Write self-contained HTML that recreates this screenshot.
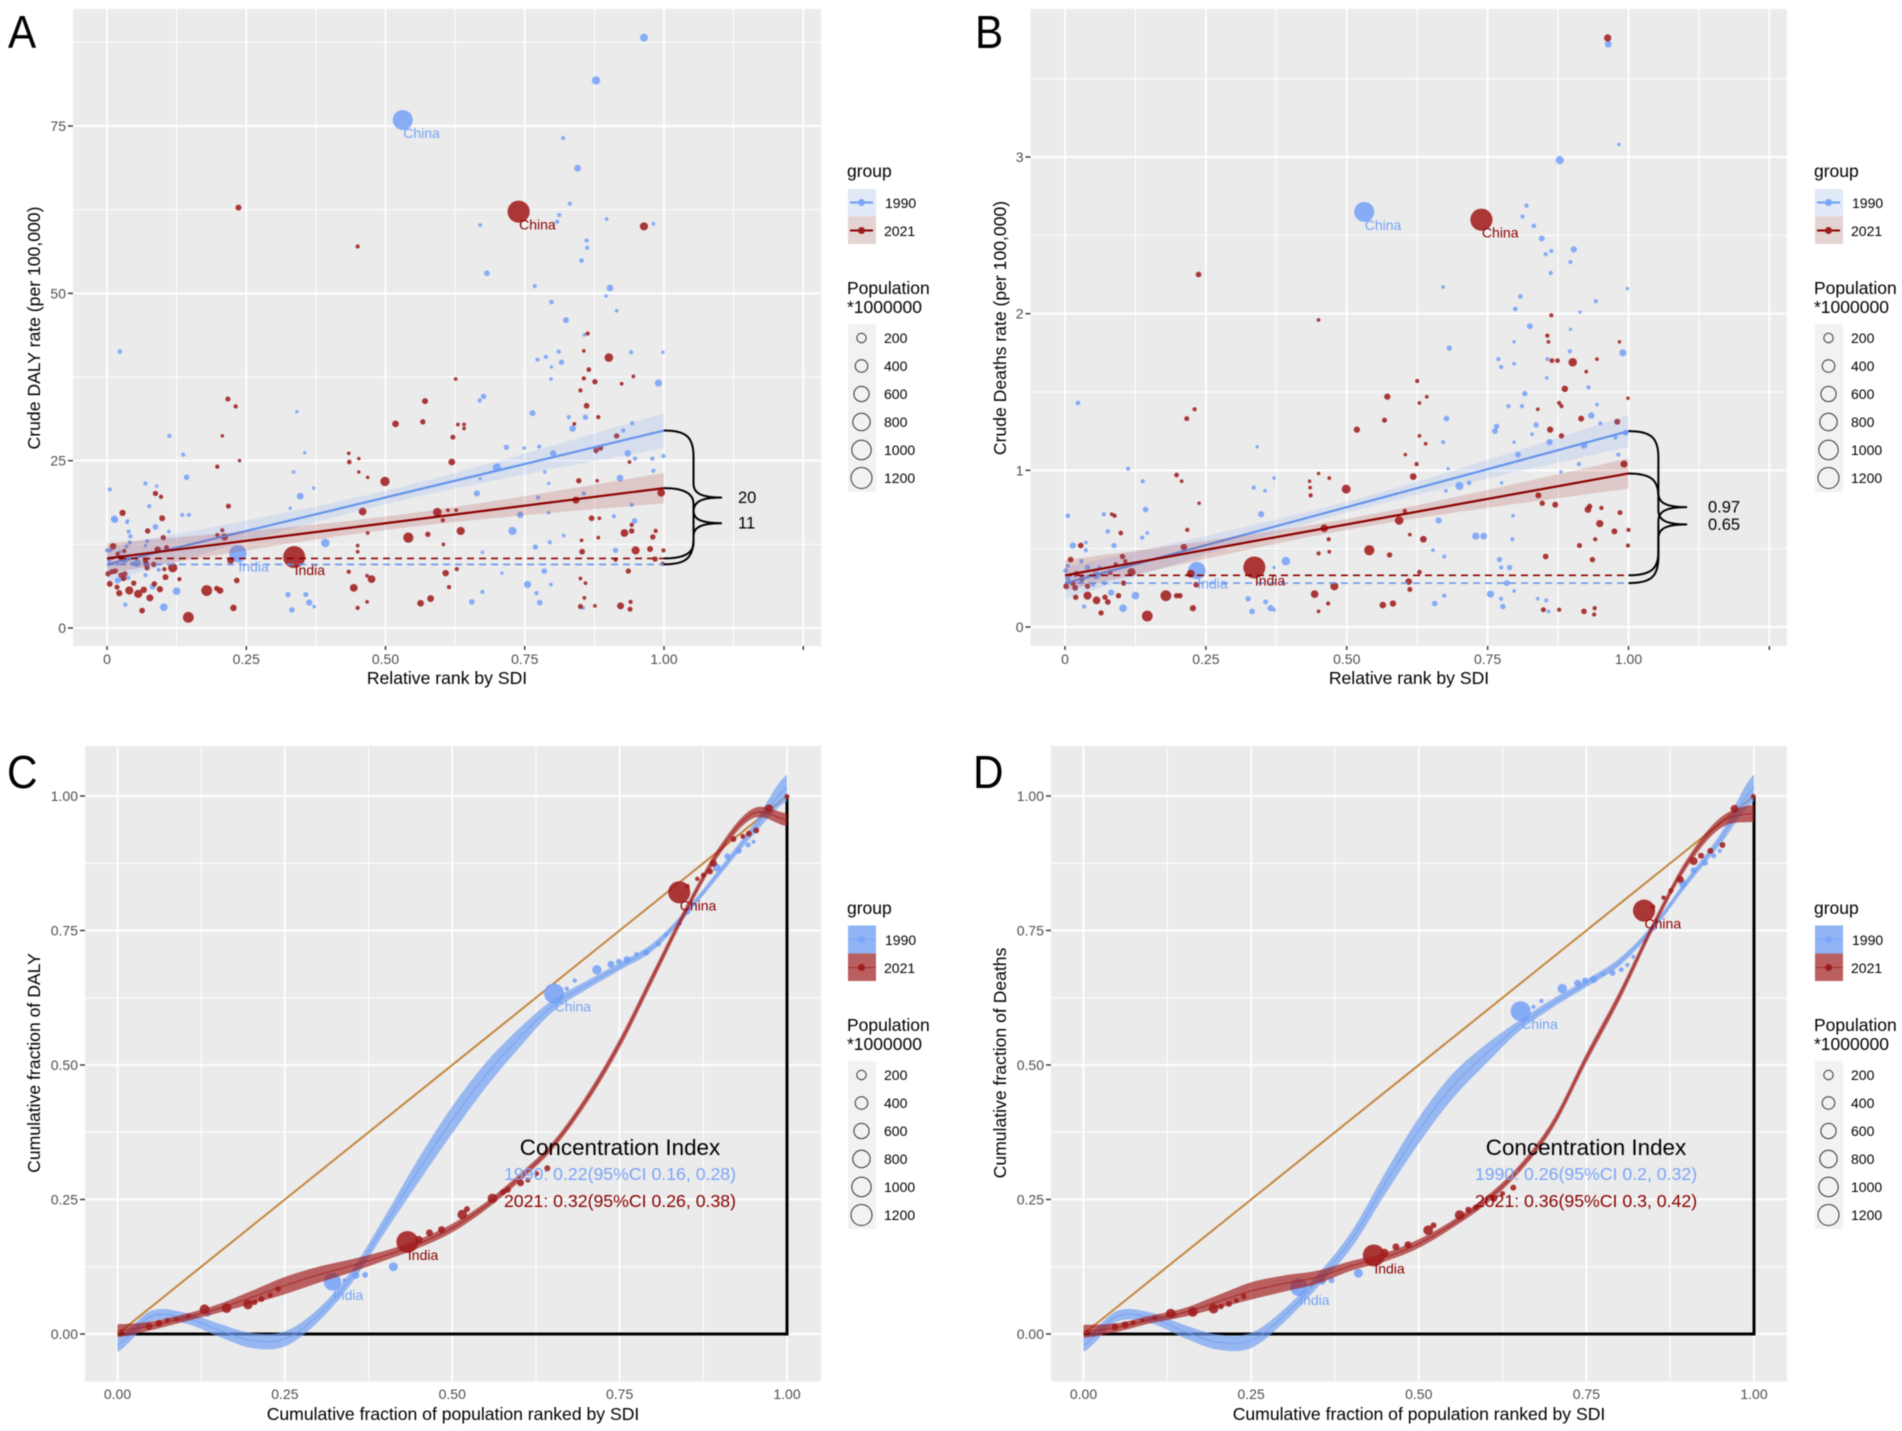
<!DOCTYPE html>
<html lang="en">
<head>
<meta charset="utf-8">
<title>Health inequality analysis by SDI</title>
<style>
html,body{margin:0;padding:0;background:#fff;width:1902px;height:1431px;overflow:hidden}
svg{display:block;font-family:"Liberation Sans",sans-serif;filter:blur(.45px)}
.lg{font-size:17.5px;fill:#000}
.lb{font-size:14px;fill:#000}
.at{font-size:17.6px;fill:#000}
.pl{font-size:46px;fill:#000}
.cs{fill:none;stroke:#333;stroke-width:1}
</style>
</head>
<body>
<svg id="figure" width="1902" height="1431" viewBox="0 0 1902 1431" xmlns="http://www.w3.org/2000/svg">
<rect width="1902" height="1431" fill="#fff"/>

<g id="panel-a">
<rect x="73" y="9" width="748" height="637" fill="#ebebeb"/>
</g>
<g id="panel-b">
<rect x="1030.5" y="9" width="756.5" height="637" fill="#ebebeb"/>
</g>
<g id="panel-c">
<rect x="85" y="746" width="736" height="635.5" fill="#ebebeb"/>
</g>
<g id="panel-d">
<rect x="1051" y="746" width="736" height="635.5" fill="#ebebeb"/>
</g>

<g>
<text class="pl" transform="translate(8,48) scale(.92,1)">A</text>
<text class="pl" transform="translate(975,48) scale(.92,1)">B</text>
<text class="pl" transform="translate(7,788) scale(.92,1)">C</text>
<text class="pl" transform="translate(973,788) scale(.92,1)">D</text>
</g>

<g>
<text class="at" x="447" y="684" text-anchor="middle">Relative rank by SDI</text>
<text class="at" transform="translate(40,328) rotate(-90)" text-anchor="middle">Crude DALY rate (per 100,000)</text>
<text class="at" x="1409" y="684" text-anchor="middle">Relative rank by SDI</text>
<text class="at" transform="translate(1006,328) rotate(-90)" text-anchor="middle">Crude Deaths rate (per 100,000)</text>
<text class="at" x="453" y="1420" text-anchor="middle">Cumulative fraction of population ranked by SDI</text>
<text class="at" transform="translate(40,1063) rotate(-90)" text-anchor="middle">Cumulative fraction of DALY</text>
<text class="at" x="1419" y="1420" text-anchor="middle">Cumulative fraction of population ranked by SDI</text>
<text class="at" transform="translate(1006,1063) rotate(-90)" text-anchor="middle">Cumulative fraction of Deaths</text>
</g>

<!-- Legend A -->
<g transform="translate(0,0)">
<text class="lg" x="847" y="177">group</text>
<rect x="848" y="189" width="28" height="27.5" fill="#e1e8f6"/>
<rect x="848" y="216.5" width="28" height="27.5" fill="#e4d3d3"/>
<line x1="850" x2="873" y1="202.5" y2="202.5" stroke="#6f9df2" stroke-width="2"/>
<circle cx="861.5" cy="202.5" r="3.5" fill="#7aa6f7"/>
<line x1="850" x2="873" y1="230.5" y2="230.5" stroke="#8b0000" stroke-width="2"/>
<circle cx="861.5" cy="230.5" r="3.5" fill="#a01c1c"/>
<text class="lb" x="885" y="208">1990</text>
<text class="lb" x="884" y="236">2021</text>
<text class="lg" x="847" y="294">Population</text>
<text class="lg" x="847" y="313">*1000000</text>
<rect x="848" y="324" width="28" height="168" fill="#f2f2f2"/>
<circle class="cs" cx="861.5" cy="338" r="4.7"/>
<circle class="cs" cx="861.5" cy="366" r="6.3"/>
<circle class="cs" cx="861.5" cy="394" r="7.6"/>
<circle class="cs" cx="861.5" cy="422" r="8.7"/>
<circle class="cs" cx="861.5" cy="450" r="9.7"/>
<circle class="cs" cx="861.5" cy="478" r="10.5"/>
<text class="lb" x="884" y="343">200</text>
<text class="lb" x="884" y="371">400</text>
<text class="lb" x="884" y="399">600</text>
<text class="lb" x="884" y="427">800</text>
<text class="lb" x="884" y="455">1000</text>
<text class="lb" x="884" y="483">1200</text>
</g>

<!-- Legend B -->
<g transform="translate(967,0)">
<text class="lg" x="847" y="177">group</text>
<rect x="848" y="189" width="28" height="27.5" fill="#e1e8f6"/>
<rect x="848" y="216.5" width="28" height="27.5" fill="#e4d3d3"/>
<line x1="850" x2="873" y1="202.5" y2="202.5" stroke="#6f9df2" stroke-width="2"/>
<circle cx="861.5" cy="202.5" r="3.5" fill="#7aa6f7"/>
<line x1="850" x2="873" y1="230.5" y2="230.5" stroke="#8b0000" stroke-width="2"/>
<circle cx="861.5" cy="230.5" r="3.5" fill="#a01c1c"/>
<text class="lb" x="885" y="208">1990</text>
<text class="lb" x="884" y="236">2021</text>
<text class="lg" x="847" y="294">Population</text>
<text class="lg" x="847" y="313">*1000000</text>
<rect x="848" y="324" width="28" height="168" fill="#f2f2f2"/>
<circle class="cs" cx="861.5" cy="338" r="4.7"/>
<circle class="cs" cx="861.5" cy="366" r="6.3"/>
<circle class="cs" cx="861.5" cy="394" r="7.6"/>
<circle class="cs" cx="861.5" cy="422" r="8.7"/>
<circle class="cs" cx="861.5" cy="450" r="9.7"/>
<circle class="cs" cx="861.5" cy="478" r="10.5"/>
<text class="lb" x="884" y="343">200</text>
<text class="lb" x="884" y="371">400</text>
<text class="lb" x="884" y="399">600</text>
<text class="lb" x="884" y="427">800</text>
<text class="lb" x="884" y="455">1000</text>
<text class="lb" x="884" y="483">1200</text>
</g>

<!-- Legend C -->
<g transform="translate(0,737)">
<text class="lg" x="847" y="177">group</text>
<rect x="848" y="188.5" width="28" height="28" fill="#90b4f6"/>
<rect x="848" y="216.5" width="28" height="27.5" fill="#b95f5f"/>
<line x1="848" x2="876" y1="202.5" y2="202.5" stroke="#7aa6f7" stroke-width="1"/>
<circle cx="861.5" cy="202.5" r="3.5" fill="#7aa6f7"/>
<line x1="848" x2="876" y1="230.5" y2="230.5" stroke="#a03030" stroke-width="1"/>
<circle cx="861.5" cy="230.5" r="3.5" fill="#a01c1c"/>
<text class="lb" x="885" y="208">1990</text>
<text class="lb" x="884" y="236">2021</text>
<text class="lg" x="847" y="294">Population</text>
<text class="lg" x="847" y="313">*1000000</text>
<rect x="848" y="324" width="28" height="168" fill="#f2f2f2"/>
<circle class="cs" cx="861.5" cy="338" r="4.7"/>
<circle class="cs" cx="861.5" cy="366" r="6.3"/>
<circle class="cs" cx="861.5" cy="394" r="7.6"/>
<circle class="cs" cx="861.5" cy="422" r="8.7"/>
<circle class="cs" cx="861.5" cy="450" r="9.7"/>
<circle class="cs" cx="861.5" cy="478" r="10.5"/>
<text class="lb" x="884" y="343">200</text>
<text class="lb" x="884" y="371">400</text>
<text class="lb" x="884" y="399">600</text>
<text class="lb" x="884" y="427">800</text>
<text class="lb" x="884" y="455">1000</text>
<text class="lb" x="884" y="483">1200</text>
</g>

<!-- Legend D -->
<g transform="translate(967,737)">
<text class="lg" x="847" y="177">group</text>
<rect x="848" y="188.5" width="28" height="28" fill="#90b4f6"/>
<rect x="848" y="216.5" width="28" height="27.5" fill="#b95f5f"/>
<line x1="848" x2="876" y1="202.5" y2="202.5" stroke="#7aa6f7" stroke-width="1"/>
<circle cx="861.5" cy="202.5" r="3.5" fill="#7aa6f7"/>
<line x1="848" x2="876" y1="230.5" y2="230.5" stroke="#a03030" stroke-width="1"/>
<circle cx="861.5" cy="230.5" r="3.5" fill="#a01c1c"/>
<text class="lb" x="885" y="208">1990</text>
<text class="lb" x="884" y="236">2021</text>
<text class="lg" x="847" y="294">Population</text>
<text class="lg" x="847" y="313">*1000000</text>
<rect x="848" y="324" width="28" height="168" fill="#f2f2f2"/>
<circle class="cs" cx="861.5" cy="338" r="4.7"/>
<circle class="cs" cx="861.5" cy="366" r="6.3"/>
<circle class="cs" cx="861.5" cy="394" r="7.6"/>
<circle class="cs" cx="861.5" cy="422" r="8.7"/>
<circle class="cs" cx="861.5" cy="450" r="9.7"/>
<circle class="cs" cx="861.5" cy="478" r="10.5"/>
<text class="lb" x="884" y="343">200</text>
<text class="lb" x="884" y="371">400</text>
<text class="lb" x="884" y="399">600</text>
<text class="lb" x="884" y="427">800</text>
<text class="lb" x="884" y="455">1000</text>
<text class="lb" x="884" y="483">1200</text>
</g>
<g id="overlay">
<text x="620" y="1155" text-anchor="middle" font-size="22.4" fill="#000">Concentration Index</text>
<text x="620" y="1180" text-anchor="middle" font-size="17.7" fill="#7aa6f7">1990: 0.22(95%CI 0.16, 0.28)</text>
<text x="620" y="1207" text-anchor="middle" font-size="17.7" fill="#8b0000">2021: 0.32(95%CI 0.26, 0.38)</text>
<text x="1586" y="1155" text-anchor="middle" font-size="22.4" fill="#000">Concentration Index</text>
<text x="1586" y="1180" text-anchor="middle" font-size="17.7" fill="#7aa6f7">1990: 0.26(95%CI 0.2, 0.32)</text>
<text x="1586" y="1207" text-anchor="middle" font-size="17.7" fill="#8b0000">2021: 0.36(95%CI 0.3, 0.42)</text>
</g>
</svg>

<script>
/* ---------- tick values and labels ---------- */
const rankTicks = [0, 0.25, 0.5, 0.75, 1, 1.25];
const rankTickLabels = ["0", "0.25", "0.50", "0.75", "1.00", ""];
const rankMinor = [0.125, 0.375, 0.625, 0.875, 1.125];
const dalyTicks = [0, 25, 50, 75];
const dalyTickLabels = ["0", "25", "50", "75"];
const dalyMinor = [12.5, 37.5, 62.5, 87.5];
const deathsTicks = [0, 1, 2, 3];
const deathsTickLabels = ["0", "1", "2", "3"];
const deathsMinor = [0.5, 1.5, 2.5, 3.5];
const fractionTicks = [0, 0.25, 0.5, 0.75, 1];
const fractionTickLabels = ["0.00", "0.25", "0.50", "0.75", "1.00"];
const fractionMinor = [0.125, 0.375, 0.625, 0.875];

/* ---------- Panel A: [relative rank, DALY rate, population (millions), label] ---------- */
const dalyPoints1990 = [
[.964,88.2,160],[.878,81.8,180],[.531,75.9,1150,"China"],[.819,73.2,28],[.845,68.7,110],[.831,63.4,28],[.812,61.7,28],[.808,60.7,28],[.670,60.2,20],[.897,61.1,15],[.981,60.4,15],[.861,57.9,28],[.862,56.8,28],[.852,54.9,40],[.682,53.0,70],[.768,51.1,28],[.903,50.8,110],[.896,49.6,10],[.798,48.7,40],[.915,47.4,15],[.824,46.0,80],[.023,41.3,40],[.857,43.8,15],[.998,41.2,10],[.941,41.2,28],[.811,41.3,28],[.788,40.5,28],[.773,40.1,28],[.816,39.7,60],[.798,39.0,10],[.990,36.6,130],[.797,37.2,15],[.676,34.6,60],[.669,34.0,28],[.764,32.1,80],[.341,32.3,10],[.829,31.5,28],[.859,31.5,60],[.836,29.8,100],[.112,28.7,28],[.943,30.6,28],[.927,29.5,28],[.717,27.0,60],[.776,27.1,28],[.749,26.9,15],[.801,26.1,90],[.137,25.9,28],[.355,26.2,10],[.935,26.1,100],[.948,25.3,28],[.979,25.3,28],[.999,25.7,28],[.700,24.0,170],[.335,23.3,15],[.786,23.3,10],[.981,23.5,28],[.921,22.4,110],[.143,22.5,70],[.069,21.6,28],[.089,21.2,10],[.005,20.7,28],[.670,22.3,10],[.793,21.6,10],[.664,20.1,90],[.347,19.7,110],[.856,20.1,28],[.774,19.5,28],[.371,20.9,10],[.942,18.4,28],[.076,18.2,28],[.329,17.9,10],[.742,16.9,100],[.135,16.9,28],[.147,16.9,28],[.793,17.2,10],[.013,16.3,110],[.910,16.7,28],[.947,16.0,70],[.037,16.0,10],[.087,15.1,70],[.039,14.4,28],[.728,14.5,170],[.111,14.4,15],[.820,13.8,15],[.042,13.7,28],[.392,12.7,190],[.769,12.1,60],[.795,12.8,28],[.913,11.6,60],[.235,11.1,870,"India"],[.785,8.5,70],[.709,8.2,10],[.674,11.3,10],[.755,6.5,130],[.797,6.5,15],[.674,5.4,28],[.125,5.5,150],[.771,5.2,28],[.325,5.0,60],[.357,5.0,50],[.777,3.8,70],[.363,3.8,90],[.372,3.2,15],[.102,3.1,150],[.332,2.7,70],[.655,3.9,70],[.855,3.0,15],[.033,3.5,28],[.014,16.2,110],[.036,15.8,15],[.041,12.8,28],[.072,13,28],[.035,12.2,28],[0,11.6,28],[.006,11.6,28],[.069,12.3,10],[.054,9.7,170],[.03,9.7,28],[.038,10.4,28],[.004,10.1,28],[.004,9.5,10],[.018,9.6,28],[.024,11.4,10],[.035,10.1,28],[.045,9.6,28],[.05,9.5,10],[.07,10.1,28],[.072,9.6,28],[.082,6.2,80],[.069,7.9,28],[.019,7.1,80],[.025,7.3,28],[.038,7.5,28],[.093,8.7,28]
];
const dalyPoints2021 = [
[.236,62.8,80],[.739,62.2,1420,"China"],[.964,60.0,170],[.450,57.0,28],[.863,44.0,28],[.856,41.4,15],[.901,40.4,190],[.865,38.6,40],[.856,37.3,28],[.626,37.2,15],[.876,36.8,60],[.945,37.6,15],[.924,36.5,15],[.850,35.5,28],[.217,34.2,50],[.231,33.1,28],[.571,33.9,80],[.861,33.2,70],[.882,31.5,28],[.518,30.5,110],[.567,30.8,60],[.641,30.4,15],[.630,30.4,15],[.641,29.8,15],[.621,28.5,50],[.207,28.7,10],[.915,28.7,60],[.839,30.5,15],[.886,26.9,60],[.878,26.5,60],[.434,26.1,15],[.435,24.8,40],[.452,25.3,10],[.619,24.8,110],[.198,24.1,28],[.238,25.0,10],[.452,23.3,10],[.468,22.5,10],[.938,24.8,15],[.499,21.9,230],[.847,22.0,60],[.880,22.0,10],[.995,20.2,150],[.842,19.1,120],[.459,17.4,150],[.593,17.3,190],[.612,17.6,15],[.627,17.6,15],[.603,16.1,28],[.870,16.4,70],[.884,16.4,15],[.635,14.5,170],[.541,13.5,280],[.576,14.0,60],[.468,14.2,15],[.929,14.2,150],[.942,15.4,28],[.942,14.5,60],[.985,14.5,28],[.980,13.6,60],[.852,13.1,15],[.882,13.5,15],[.604,12.5,15],[.450,12.3,15],[.450,11.4,15],[.853,11.4,70],[.949,11.6,170],[.975,11.8,80],[.999,11.6,28],[.336,10.6,1400,"India"],[.913,10.2,28],[.984,10.3,60],[.998,9.6,28],[.628,8.8,28],[.608,8.2,100],[.434,8.4,28],[.467,7.8,15],[.475,7.3,150],[.850,7.4,15],[.859,6.7,15],[.936,8.5,60],[.443,6.0,150],[.614,6.1,28],[.581,4.4,110],[.563,3.7,110],[.467,3.9,15],[.857,4.5,15],[.940,3.9,28],[.450,3.0,28],[.850,3.2,50],[.876,3.3,15],[.922,3.3,120],[.939,2.8,50],[.028,17.2,90],[.099,16.4,80],[.073,14.5,60],[.101,13.5,60],[.011,12.2,100],[.107,12,50],[.091,11.7,100],[.019,11.1,28],[.031,11.5,28],[.025,10.5,60],[.069,10.1,60],[.07,9.6,60],[.072,9,60],[.084,9.5,60],[.103,8.8,28],[.118,9,230],[.105,7.6,80],[.015,8.5,60],[.009,8.4,60],[.002,8.1,60],[.025,7.9,60],[.032,8.1,60],[.03,7.4,60],[.085,6.6,60],[.13,7.3,28],[.048,6.7,60],[.005,6.6,80],[.018,6.1,50],[.095,5.8,90],[.022,5.2,90],[.04,5.6,170],[.066,5.7,100],[.056,5.1,170],[.077,4.5,120],[.063,2.6,70],[.146,1.6,320],[.179,5.6,320],[.197,5.9,60],[.203,5.6,100],[.227,3,100],[.233,7.1,70],[.222,10.1,110],[.211,13.6,120],[.198,13.9,28],[.207,14.6,28],[.218,18.2,50],[.087,20.1,60],[.097,19.6,28]
];
const dalyFit1990 = [9.5, 20];
const dalyFit2021 = [10.4, 10.5];
const dalyBand1990 = [1.0, 4.8];
const dalyBand2021 = [1.0, 4.1];
const dalySlopeLabels = ["20", "11"];

/* ---------- Panel B: [relative rank, deaths rate, population (millions), label] ---------- */
const deathsPoints1990 = [
[.964,3.72,110],[.983,3.08,10],[.878,2.98,170],[.531,2.65,1150,"China"],[.819,2.69,28],[.812,2.62,28],[.832,2.56,40],[.846,2.48,80],[.903,2.41,90],[.863,2.40,28],[.853,2.38,28],[.897,2.33,28],[.862,2.26,28],[.671,2.17,15],[.998,2.16,10],[.808,2.11,40],[.942,2.08,28],[.799,2.03,40],[.914,2.01,10],[.825,1.92,80],[.897,1.90,10],[.797,1.82,10],[.682,1.78,60],[.896,1.76,28],[.990,1.75,120],[.769,1.71,28],[.797,1.68,15],[.774,1.66,28],[.856,1.71,28],[.855,1.59,15],[.023,1.43,40],[.816,1.49,60],[.929,1.53,28],[.944,1.42,15],[.787,1.41,28],[.811,1.41,28],[.934,1.35,100],[.677,1.33,70],[.950,1.30,28],[.766,1.28,60],[.836,1.29,60],[.763,1.25,70],[.829,1.23,15],[.112,1.01,28],[.138,.93,28],[.341,1.15,10],[.797,1.18,10],[.671,1.18,28],[.860,1.18,90],[.921,1.16,110],[.977,1.21,28],[.995,1.24,70],[.804,1.10,70],[.982,1.10,28],[.680,1.01,10],[.700,.90,170],[.717,.92,40],[.676,.87,15],[.371,.95,15],[.335,.89,28],[.355,.87,15],[.775,.92,10],[.912,1.04,28],[.880,.99,10],[.143,.75,70],[.005,.71,40],[.069,.72,28],[.348,.72,90],[.663,.68,90],[.795,.71,15],[.076,.61,40],[.146,.60,15],[.137,.57,28],[.014,.52,90],[.087,.52,60],[.037,.54,15],[.729,.58,130],[.743,.58,110],[.794,.56,28],[.392,.42,190],[.771,.43,60],[.673,.45,28],[.653,.49,15],[.789,.38,60],[.774,.38,28],[.001,.36,40],[.040,.38,60],[.234,.36,870,"India"],[.055,.33,170],[.005,.31,60],[.082,.22,90],[.784,.28,80],[.371,.38,10],[.125,.20,150],[.755,.21,130],[.673,.20,28],[.774,.18,28],[.797,.23,15],[.325,.18,60],[.356,.16,50],[.365,.12,90],[.371,.11,15],[.034,.13,28],[.103,.12,150],[.332,.10,70],[.656,.15,70],[.777,.13,60],[.839,.18,15],[.854,.17,28],[.858,.10,15],[.018,.33,28],[.029,.29,28],[.04,.32,28],[.005,.39,28],[.029,.42,28],[.037,.49,28],[.061,.38,28],[.05,.27,28],[.07,.28,28]
];
const deathsPoints2021 = [
[.963,3.76,130],[.739,2.60,1420,"China"],[.237,2.25,70],[.450,1.96,15],[.863,1.99,28],[.856,1.86,28],[.858,1.82,15],[.984,1.82,10],[.901,1.69,190],[.864,1.70,40],[.874,1.70,40],[.944,1.71,15],[.925,1.63,15],[.625,1.57,28],[.887,1.52,100],[.572,1.47,90],[.642,1.47,15],[.629,1.43,15],[.877,1.43,28],[.881,1.41,28],[.999,1.46,10],[.839,1.39,15],[.230,1.39,28],[.216,1.33,50],[.567,1.32,50],[.916,1.33,80],[.980,1.31,80],[.518,1.26,90],[.861,1.26,90],[.629,1.22,15],[.881,1.22,60],[.640,1.17,15],[.604,1.10,10],[.624,1.04,28],[.992,1.04,120],[.198,.97,40],[.207,.93,15],[.450,.98,10],[.469,.95,15],[.434,.93,10],[.435,.89,15],[.436,.84,28],[.499,.88,210],[.618,.96,110],[.840,.84,80],[.847,.79,60],[.870,.78,80],[.238,.79,10],[.928,.75,110],[.931,.77,60],[.952,.76,28],[.985,.73,50],[.593,.68,190],[.603,.74,28],[.949,.66,130],[.460,.63,150],[.088,.71,28],[.083,.72,15],[.099,.60,40],[.217,.62,28],[.468,.56,28],[.612,.59,15],[.636,.56,110],[.975,.61,80],[1.0,.62,28],[.941,.56,28],[.028,.52,70],[.211,.51,100],[.540,.49,280],[.576,.46,60],[.450,.47,28],[.469,.48,15],[.853,.45,70],[.913,.52,50],[.999,.52,28],[.010,.43,70],[.102,.45,60],[.107,.42,28],[.936,.43,60],[.629,.35,40],[.223,.34,160],[.118,.35,170],[.020,.34,60],[.336,.38,1400,"India"],[.610,.29,100],[.104,.28,60],[.233,.27,70],[.478,.26,170],[.002,.26,70],[.018,.25,70],[.612,.24,50],[.443,.21,150],[.040,.20,170],[.019,.19,60],[.179,.20,320],[.198,.20,60],[.204,.20,60],[.056,.17,150],[.071,.19,60],[.095,.20,60],[.076,.16,70],[.227,.12,90],[.467,.15,28],[.564,.14,100],[.582,.15,90],[.450,.10,15],[.064,.09,60],[.146,.07,320],[.849,.11,50],[.877,.11,28],[.921,.10,70],[.940,.12,28],[.939,.08,28],[.03,.31,60],[.014,.28,60],[.04,.26,60],[.08,.35,60],[.09,.4,28]
];
const deathsFit1990 = [0.28, 0.97];
const deathsFit2021 = [0.33, 0.65];
const deathsBand1990 = [0.035, 0.19];
const deathsBand2021 = [0.035, 0.18];
const deathsSlopeLabels = ["0.97", "0.65"];

/* ---------- Panel C & D: concentration curves on a uniform fraction grid ---------- */
const curveGrid = [0,.05,.1,.15,.2,.25,.3,.35,.4,.45,.5,.55,.6,.65,.7,.75,.8,.85,.9,.95,1];
const dalyCurve1990 = [-.02,.033,.03,.008,-.012,-.009,.035,.107,.205,.305,.398,.481,.55,.61,.648,.683,.72,.784,.86,.938,1.015];
const dalyCurve2021 = [.006,.015,.03,.047,.068,.09,.11,.127,.146,.168,.197,.238,.29,.35,.435,.54,.665,.79,.90,.968,.956];
const dalyCurveSpread1990 = [.013,.01,.01,.012,.014,.014,.012,.012,.015,.022,.025,.023,.018,.011,.008,.007,.007,.006,.007,.01,.025];
const dalyCurveSpread2021 = [.012,.008,.007,.008,.012,.016,.015,.012,.009,.008,.008,.007,.007,.007,.008,.009,.009,.008,.008,.009,.012];
const deathsCurve1990 = [-.02,.033,.03,.005,-.015,-.012,.035,.1,.176,.28,.378,.46,.52,.573,.615,.652,.692,.757,.84,.92,1.015];
const deathsCurve2021 = [.005,.012,.027,.04,.06,.08,.094,.106,.127,.143,.168,.204,.248,.307,.39,.513,.63,.76,.875,.95,.968];
const deathsCurveSpread1990 = [.013,.01,.01,.012,.014,.014,.012,.012,.015,.02,.024,.023,.018,.01,.008,.007,.007,.006,.007,.01,.025];
const deathsCurveSpread2021 = [.012,.008,.007,.008,.012,.016,.015,.012,.009,.008,.008,.007,.007,.007,.008,.009,.009,.008,.008,.01,.016];

/* [cumulative population fraction, cumulative fraction, population (millions), label] */
const dalyCumPoints1990 = [
[.135,.037,60],[.321,.097,870,"India"],[.339,.1,21],[.356,.109,118],[.37,.11,80],[.412,.125,210],[.652,.633,1150,"China"],[.671,.642,30],[.683,.657,30],[.716,.677,234],[.737,.687,118],[.749,.692,80],[.761,.696,118],[.775,.706,30],[.79,.709,80],[.808,.725,48],[.819,.742,25],[.84,.763,25],[.851,.785,80],[.895,.867,162],[.911,.888,80],[.928,.898,80],[.942,.909,48],[.95,.915,25]
];
const dalyCumPoints2021 = [
[.006,.004,30],[.047,.014,115],[.062,.02,118],[.074,.025,48],[.088,.027,21],[.106,.033,21],[.13,.046,250],[.163,.048,250],[.195,.055,250],[.205,.059,62],[.215,.065,80],[.228,.072,48],[.24,.084,62],[.433,.171,1400,"India"],[.45,.175,162],[.466,.188,118],[.484,.194,118],[.515,.222,250],[.522,.232,80],[.56,.252,250],[.576,.264,80],[.583,.268,80],[.602,.281,118],[.613,.286,48],[.626,.298,48],[.642,.308,80],[.839,.821,1420,"China"],[.851,.832,48],[.866,.846,30],[.875,.853,48],[.885,.86,80],[.89,.875,118],[.92,.92,80],[.934,.925,48],[.943,.93,80],[.954,.936,80],[.973,.977,162],[1,.999,48]
];
const deathsCumPoints1990 = [
[.136,.034,60],[.321,.087,870,"India"],[.339,.09,21],[.356,.098,118],[.37,.1,80],[.41,.113,210],[.652,.6,1150,"China"],[.671,.608,30],[.683,.619,30],[.714,.642,234],[.737,.652,118],[.748,.657,80],[.761,.659,118],[.775,.669,30],[.789,.671,80],[.802,.677,48],[.811,.686,30],[.82,.701,25],[.838,.732,25],[.85,.755,80],[.894,.837,162],[.91,.862,80],[.927,.876,80],[.94,.889,48],[.949,.898,25]
];
const deathsCumPoints2021 = [
[.006,.004,30],[.047,.013,115],[.062,.017,118],[.074,.021,48],[.088,.025,21],[.106,.03,21],[.13,.038,250],[.163,.041,250],[.194,.047,250],[.205,.051,62],[.217,.056,80],[.228,.062,48],[.239,.07,62],[.433,.146,1400,"India"],[.449,.151,162],[.466,.162,118],[.484,.166,118],[.514,.193,250],[.522,.202,80],[.561,.221,250],[.574,.231,80],[.585,.235,80],[.612,.252,118],[.625,.261,48],[.641,.272,80],[.836,.787,1420,"China"],[.849,.794,48],[.865,.811,30],[.876,.824,48],[.89,.845,118],[.91,.879,162],[.921,.889,80],[.935,.898,80],[.953,.909,80],[.971,.976,162],[.999,.999,48]
];

/* ---------- helpers ---------- */
const SVG_NS = "http://www.w3.org/2000/svg";
const BLUE_DOT = "#77a3f7", RED_DOT = "#a01c1c", BLUE_LINE = "#6495ed", RED_LINE = "#8b0000";

function el(tag, attrs, parent) {
  const node = document.createElementNS(SVG_NS, tag);
  for (const key in attrs) node.setAttribute(key, attrs[key]);
  parent.appendChild(node);
  return node;
}
function linear(d0, p0, d1, p1) {
  return function (v) { return p0 + (v - d0) * (p1 - p0) / (d1 - d0); };
}
function radius(pop) { return Math.sqrt(2.2 + 0.085 * pop); }

function drawFrame(g, box, sx, sy, xt, xl, xm, yt, yl, ym, showXTicks, xLabelY) {
  xm.forEach(function (v) {
    const l = el("line", {x1: sx(v), x2: sx(v), y1: box.top, y2: box.bottom, stroke: "#fff", "stroke-width": 1}, g);
    
    
  });
  ym.forEach(function (v) {
    const l = el("line", {x1: box.left, x2: box.right, y1: sy(v), y2: sy(v), stroke: "#fff", "stroke-width": 1}, g);
    
    
  });
  xt.forEach(function (v, i) {
    const l = el("line", {x1: sx(v), x2: sx(v), y1: box.top, y2: box.bottom, stroke: "#fff", "stroke-width": 1.8}, g);
    
    
    if (showXTicks) {
      const t = el("line", {x1: sx(v), x2: sx(v), y1: box.bottom, y2: box.bottom + 4, stroke: "#333", "stroke-width": 1.4}, g);
      
      
    }
    const label = el("text", {x: sx(v), y: xLabelY, "text-anchor": "middle", "font-size": 14, fill: "#4d4d4d"}, g);
    label.textContent = xl[i];
    
    
  });
  yt.forEach(function (v, i) {
    const l = el("line", {x1: box.left, x2: box.right, y1: sy(v), y2: sy(v), stroke: "#fff", "stroke-width": 2}, g);
    
    
    const t = el("line", {x1: box.left - 5, x2: box.left, y1: sy(v), y2: sy(v), stroke: "#333", "stroke-width": 1.4}, g);
    
    
    const label = el("text", {x: box.left - 7, y: sy(v) + 5, "text-anchor": "end", "font-size": 14, fill: "#4d4d4d"}, g);
    label.textContent = yl[i];
    
    
  });
}

function drawPoints(g, points, sx, sy, color, series) {
  points.forEach(function (p) {
    const c = el("circle", {cx: sx(p[0]), cy: sy(p[1]), r: radius(p[2]), fill: color, "fill-opacity": 0.88}, g);
    
    
  });
}
function drawLabels(g, points, sx, sy, color, series) {
  points.forEach(function (p) {
    if (!p[3]) return;
    const t = el("text", {x: sx(p[0]) + 0.5, y: sy(p[1]) + 18, "font-size": 14, fill: color}, g);
    t.textContent = p[3];
    
    
  });
}

function drawFit(g, fit, band, sx, sy, lineColor, bandColor, series) {
  const top = [], bot = [];
  for (let i = 0; i <= 40; i++) {
    const x = i / 40;
    const half = Math.sqrt(band[0] * band[0] + Math.pow(band[1] * (x - 0.5), 2));
    const y = fit[0] + fit[1] * x;
    top.push(sx(x) + "," + sy(y + half));
    bot.unshift(sx(x) + "," + sy(y - half));
  }
  const area = el("polygon", {points: top.concat(bot).join(" "), fill: bandColor, "fill-opacity": 0.17}, g);
  
  
  const dash = el("line", {x1: sx(0), x2: sx(1), y1: sy(fit[0]), y2: sy(fit[0]), stroke: lineColor, "stroke-width": 1.6, "stroke-dasharray": "7 5"}, g);
  
  
  const line = el("line", {x1: sx(0), x2: sx(1), y1: sy(fit[0]), y2: sy(fit[0] + fit[1]), stroke: lineColor, "stroke-width": 2.2}, g);
  
  
}

function drawBrace(g, fit, sx, sy, labelText, name, labelX) {
  const x0 = sx(1), xv = sx(1.053), xt = sx(1.104);
  const yt = sy(fit[0] + fit[1]), yb = sy(fit[0]), ym = (yt + yb) / 2;
  const e = Math.min(26, (ym - yt) * 0.45), f = Math.min(14, (ym - yt) * 0.35), low = Math.min(26, (yb - ym) * 0.45);
  const d = "M" + x0 + "," + yt +
    " C" + (xv - 8) + "," + yt + " " + xv + "," + (yt + 6) + " " + xv + "," + (yt + e) +
    " L" + xv + "," + (ym - f) +
    " C" + xv + "," + (ym - 4) + " " + (xv + 8) + "," + ym + " " + xt + "," + ym +
    " C" + (xv + 8) + "," + ym + " " + xv + "," + (ym + 4) + " " + xv + "," + (ym + f) +
    " L" + xv + "," + (yb - low) +
    " C" + xv + "," + (yb - 6) + " " + (xv - 8) + "," + yb + " " + x0 + "," + yb;
  const p = el("path", {d: d, fill: "none", stroke: "#000", "stroke-width": 2}, g);
  
  
  const t = el("text", {x: labelX, y: ym + 5.5, "font-size": 16.5, fill: "#000"}, g);
  t.textContent = labelText;
  
  
}

function catmull(values, t) {
  const n = values.length - 1;
  const pos = Math.min(t * n, n - 1e-6), i = Math.floor(pos), u = pos - i;
  const p0 = values[Math.max(0, i - 1)], p1 = values[i], p2 = values[i + 1], p3 = values[Math.min(n, i + 2)];
  return 0.5 * (2 * p1 + (p2 - p0) * u + (2 * p0 - 5 * p1 + 4 * p2 - p3) * u * u + (3 * p1 - p0 - 3 * p2 + p3) * u * u * u);
}

function drawCurve(g, grid, curve, spread, sx, sy, color, bandOpacity, lineColor, series) {
  const top = [], bot = [], mid = [];
  const x0 = grid[0], x1 = grid[grid.length - 1];
  for (let i = 0; i <= 200; i++) {
    const t = i / 200, x = x0 + (x1 - x0) * t, y = catmull(curve, t), h = catmull(spread, t);
    top.push(sx(x) + "," + sy(y + h));
    bot.unshift(sx(x) + "," + sy(y - h));
    mid.push(sx(x) + "," + sy(y));
  }
  const area = el("polygon", {points: top.concat(bot).join(" "), fill: color, "fill-opacity": bandOpacity}, g);
  
  
  const line = el("polyline", {points: mid.join(" "), fill: "none", stroke: lineColor, "stroke-width": 0.8}, g);
  
  
}

function drawReferenceLines(g, sx, sy) {
  const tri = el("polyline", {points: sx(0) + "," + sy(0) + " " + sx(1) + "," + sy(0) + " " + sx(1) + "," + sy(1), fill: "none", stroke: "#000", "stroke-width": 3}, g);
  
  
  const eq = el("line", {x1: sx(0), y1: sy(0), x2: sx(1), y2: sy(1), stroke: "#c6853f", "stroke-width": 2}, g);
  
  
}

/* ---------- Panel A ---------- */
(function () {
  const g = document.getElementById("panel-a");
  const box = {left: 73, right: 821, top: 9, bottom: 646};
  const sx = linear(0, 107, 1, 664), sy = linear(0, 628, 75, 126);
  drawFrame(g, box, sx, sy, rankTicks, rankTickLabels, rankMinor, dalyTicks, dalyTickLabels, dalyMinor, true, 664);
  drawPoints(g, dalyPoints1990, sx, sy, BLUE_DOT, "1990");
  drawPoints(g, dalyPoints2021, sx, sy, RED_DOT, "2021");
  drawFit(g, dalyFit1990, dalyBand1990, sx, sy, BLUE_LINE, "#6f9df2", "1990");
  drawFit(g, dalyFit2021, dalyBand2021, sx, sy, RED_LINE, "#a01c1c", "2021");
  drawLabels(g, dalyPoints1990, sx, sy, BLUE_DOT, "1990");
  drawLabels(g, dalyPoints2021, sx, sy, RED_LINE, "2021");
  drawBrace(g, dalyFit1990, sx, sy, dalySlopeLabels[0], "1990", 738);
  drawBrace(g, dalyFit2021, sx, sy, dalySlopeLabels[1], "2021", 738);
})();

/* ---------- Panel B ---------- */
(function () {
  const g = document.getElementById("panel-b");
  const box = {left: 1030.5, right: 1787, top: 9, bottom: 646};
  const sx = linear(0, 1065, 1, 1628.5), sy = linear(0, 627, 3, 157);
  drawFrame(g, box, sx, sy, rankTicks, rankTickLabels, rankMinor, deathsTicks, deathsTickLabels, deathsMinor, true, 664);
  drawPoints(g, deathsPoints1990, sx, sy, BLUE_DOT, "1990");
  drawPoints(g, deathsPoints2021, sx, sy, RED_DOT, "2021");
  drawFit(g, deathsFit1990, deathsBand1990, sx, sy, BLUE_LINE, "#6f9df2", "1990");
  drawFit(g, deathsFit2021, deathsBand2021, sx, sy, RED_LINE, "#a01c1c", "2021");
  drawLabels(g, deathsPoints1990, sx, sy, BLUE_DOT, "1990");
  drawLabels(g, deathsPoints2021, sx, sy, RED_LINE, "2021");
  drawBrace(g, deathsFit1990, sx, sy, deathsSlopeLabels[0], "1990", 1708);
  drawBrace(g, deathsFit2021, sx, sy, deathsSlopeLabels[1], "2021", 1708);
})();

/* ---------- Panel C ---------- */
(function () {
  const g = document.getElementById("panel-c");
  const box = {left: 85, right: 821, top: 746, bottom: 1381.5};
  const sx = linear(0, 117.5, 1, 787), sy = linear(0, 1334, 1, 796);
  drawFrame(g, box, sx, sy, fractionTicks, fractionTickLabels, fractionMinor, fractionTicks, fractionTickLabels, fractionMinor, false, 1399);
  drawReferenceLines(g, sx, sy);
  drawPoints(g, dalyCumPoints1990, sx, sy, BLUE_DOT, "1990");
  drawCurve(g, curveGrid, dalyCurve1990, dalyCurveSpread1990, sx, sy, "#6f9df2", 0.68, "#6f9df2", "1990");
  drawPoints(g, dalyCumPoints2021, sx, sy, RED_DOT, "2021");
  drawCurve(g, curveGrid, dalyCurve2021, dalyCurveSpread2021, sx, sy, "#a01c1c", 0.68, "#a01c1c", "2021");
  drawLabels(g, dalyCumPoints1990, sx, sy, BLUE_DOT, "1990");
  drawLabels(g, dalyCumPoints2021, sx, sy, RED_LINE, "2021");
})();

/* ---------- Panel D ---------- */
(function () {
  const g = document.getElementById("panel-d");
  const box = {left: 1051, right: 1787, top: 746, bottom: 1381.5};
  const sx = linear(0, 1083.5, 1, 1754), sy = linear(0, 1334, 1, 796);
  drawFrame(g, box, sx, sy, fractionTicks, fractionTickLabels, fractionMinor, fractionTicks, fractionTickLabels, fractionMinor, false, 1399);
  drawReferenceLines(g, sx, sy);
  drawPoints(g, deathsCumPoints1990, sx, sy, BLUE_DOT, "1990");
  drawCurve(g, curveGrid, deathsCurve1990, deathsCurveSpread1990, sx, sy, "#6f9df2", 0.68, "#6f9df2", "1990");
  drawPoints(g, deathsCumPoints2021, sx, sy, RED_DOT, "2021");
  drawCurve(g, curveGrid, deathsCurve2021, deathsCurveSpread2021, sx, sy, "#a01c1c", 0.68, "#a01c1c", "2021");
  drawLabels(g, deathsCumPoints1990, sx, sy, BLUE_DOT, "1990");
  drawLabels(g, deathsCumPoints2021, sx, sy, RED_LINE, "2021");
})();
</script>
</body>
</html>
